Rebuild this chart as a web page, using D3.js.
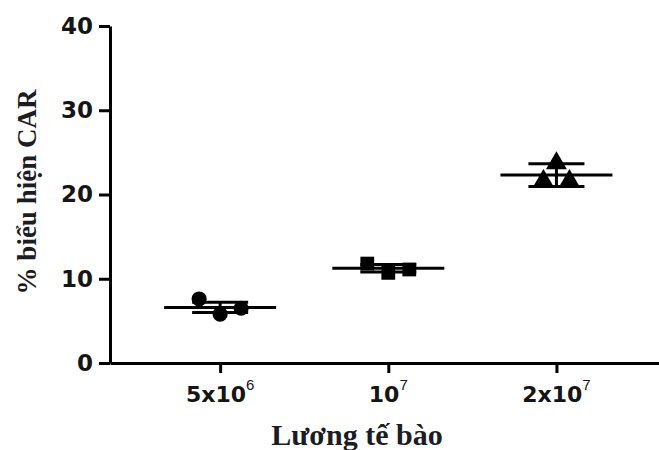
<!DOCTYPE html>
<html>
<head>
<meta charset="utf-8">
<script src="https://cdn.jsdelivr.net/npm/d3@7"></script>
<style>
  body { margin: 0; background: #fff; }
  svg { display: block; }
  .tick text { font-family: "DejaVu Sans", Arial, sans-serif; font-weight: bold; fill: #151515; }
</style>
</head>
<body>
<svg id="chart" width="659" height="450"></svg>
<script>
// groups and their superscripted labels
const groups = ["5x10^6", "10^7", "2x10^7"];
const labelBase = ["5x10", "10", "2x10"];
const labelExp = ["6", "7", "7"];

// replicate values (left, middle, right), % CAR expression
const circleVals = [7.6, 5.8, 6.5];
const squareVals = [11.8, 10.7, 11.1];
const triangleVals = [21.6, 23.7, 21.6];
const groupVals = [circleVals, squareVals, triangleVals];
const markerTypes = ["circle", "square", "triangle"];

// mean and error bar half-range per group
const means = [6.6, 11.25, 22.3];
const errs = [0.6, 0.45, 1.35];

const yTicks = [0, 10, 20, 30, 40];

const svg = d3.select("#chart");
const margin = {top: 26, left: 110, bottom: 363, right: 659};

const x = d3.scaleLinear()
  .domain([-0.655, 2.61])
  .range([margin.left, margin.right]);

const y = d3.scaleLinear()
  .domain([0, 40])
  .range([margin.bottom, margin.top]);

// y axis
const yAxis = svg.append("g")
  .attr("transform", `translate(${margin.left},0)`)
  .call(d3.axisLeft(y).tickValues(yTicks).tickSize(11).tickPadding(6).tickSizeOuter(0));
yAxis.select(".domain").attr("stroke-width", 3);
yAxis.selectAll(".tick line").attr("stroke-width", 3);
yAxis.selectAll(".tick text").attr("font-size", 23);

// x axis
const xAxis = svg.append("g")
  .attr("transform", `translate(0,${margin.bottom})`)
  .call(d3.axisBottom(x).tickValues([0, 1, 2]).tickFormat("").tickSize(10).tickSizeOuter(0));
xAxis.select(".domain").attr("stroke-width", 3);
xAxis.selectAll(".tick line").attr("stroke-width", 3);

// x labels with superscripts
groups.forEach((g, i) => {
  const t = svg.append("text")
    .attr("x", x(i))
    .attr("y", 402)
    .attr("text-anchor", "middle")
    .attr("font-family", "DejaVu Sans, Arial, sans-serif")
    .attr("font-weight", "bold")
    .attr("font-size", 22)
    .attr("fill", "#151515");
  t.append("tspan").text(labelBase[i]);
  t.append("tspan").attr("dy", -12).attr("font-size", 15).attr("font-weight", "normal")
    .attr("font-family", "Liberation Sans, Arial, sans-serif").text(labelExp[i]);
});

// markers
const offsets = [[-21, 0, 21], [-21, 0, 21], [-13, 0, 13]];
const symbolFor = {
  circle: d3.symbol().type(d3.symbolCircle).size(180),
  square: d3.symbol().type(d3.symbolSquare).size(190),
  triangle: d3.symbol().type(d3.symbolTriangle).size(190)
};

groupVals.forEach((vals, gi) => {
  const cx = x(gi);
  // mean line
  svg.append("line")
    .attr("x1", cx - 56).attr("x2", cx + 56)
    .attr("y1", y(means[gi])).attr("y2", y(means[gi]))
    .attr("stroke", "#000").attr("stroke-width", 3);
  // error whiskers
  [means[gi] + errs[gi], means[gi] - errs[gi]].forEach(v => {
    svg.append("line")
      .attr("x1", cx - 28).attr("x2", cx + 28)
      .attr("y1", y(v)).attr("y2", y(v))
      .attr("stroke", "#000").attr("stroke-width", 3);
  });
  svg.append("line")
    .attr("x1", cx).attr("x2", cx)
    .attr("y1", y(means[gi] + errs[gi])).attr("y2", y(means[gi] - errs[gi]))
    .attr("stroke", "#000").attr("stroke-width", 3);

  svg.append("g")
    .selectAll("path")
    .data(vals)
    .enter()
    .append("path")
    .attr("d", symbolFor[markerTypes[gi]])
    .attr("transform", (d, j) => `translate(${cx + offsets[gi][j]},${y(d)})`)
    .attr("fill", "#000");
});

// axis titles
svg.append("text")
  .attr("transform", "translate(36,192) rotate(-90)")
  .attr("text-anchor", "middle")
  .attr("font-family", "Liberation Serif, Times New Roman, serif")
  .attr("font-weight", "bold")
  .attr("font-size", 27)
  .attr("fill", "#1c1c24")
  .text("% biểu hiện CAR");

svg.append("text")
  .attr("x", 357)
  .attr("y", 445)
  .attr("text-anchor", "middle")
  .attr("font-family", "Liberation Serif, Times New Roman, serif")
  .attr("font-weight", "bold")
  .attr("font-size", 30)
  .attr("fill", "#1c1c24")
  .text("Lương tế bào");
</script>
</body>
</html>
